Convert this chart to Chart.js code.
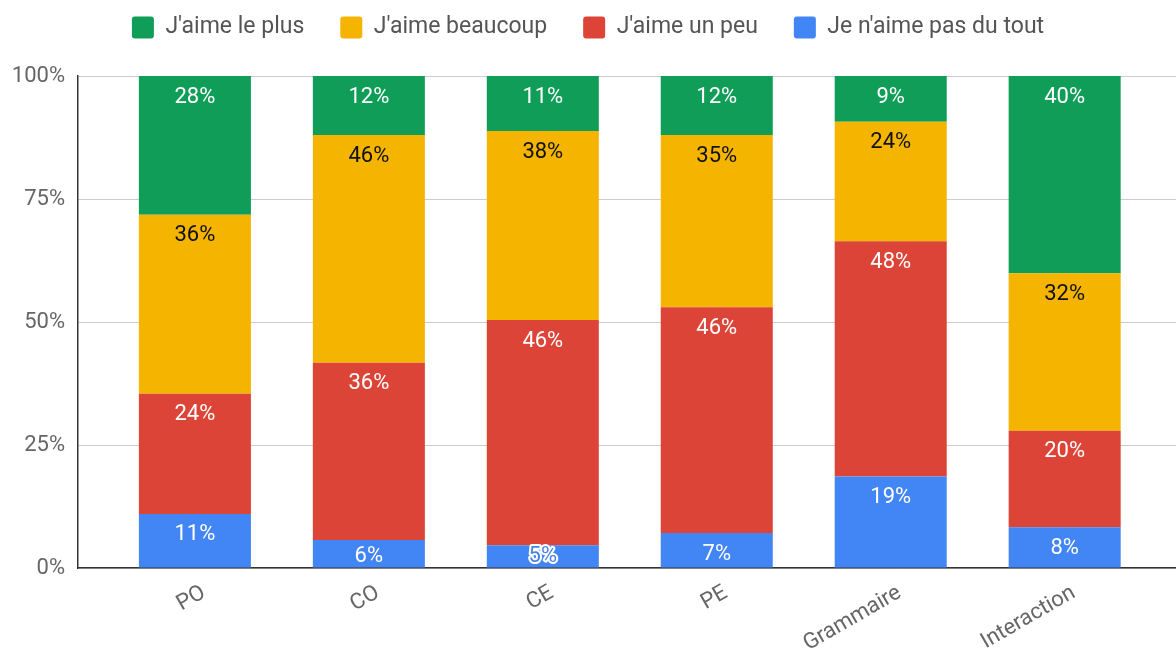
<!DOCTYPE html>
<html lang="fr">
<head>
<meta charset="utf-8">
<script src="https://cdn.jsdelivr.net/npm/chart.js@4"></script>
<style>
  html, body { margin: 0; padding: 0; background: #fff; overflow: hidden; }
  #wrap { width: 1176px; height: 651px; }
</style>
</head>
<body>
<div id="wrap"><canvas id="chart"></canvas></div>
<script>
// Catégories et séries (pourcentages)
const categories = ['PO', 'CO', 'CE', 'PE', 'Grammaire', 'Interaction'];
const plus      = [28.2, 12.0, 11.2, 12.0,  9.3, 40.1];
const beaucoup  = [36.4, 46.3, 38.4, 35.0, 24.3, 32.0];
const unPeu     = [24.4, 36.0, 45.8, 45.9, 47.8, 19.6];
const pasDuTout = [11.0,  5.7,  4.6,  7.1, 18.6,  8.3];
const yTicks    = [0, 25, 50, 75, 100];

const FONT = 'Roboto, "Noto Sans", sans-serif';

function toPoints(values) {
  return values.map((v, i) => ({ x: i, y: v }));
}

// Étiquettes de valeur dans les barres
const barLabels = {
  id: 'barLabels',
  afterDatasetsDraw(chart) {
    const ctx = chart.ctx;
    ctx.save();
    ctx.font = '22px ' + FONT;
    ctx.textAlign = 'center';
    ctx.textBaseline = 'middle';
    chart.data.datasets.forEach((ds, di) => {
      const meta = chart.getDatasetMeta(di);
      meta.data.forEach((bar, i) => {
        const v = ds.data[i].y;
        const top = Math.min(bar.y, bar.base);
        const bottom = Math.max(bar.y, bar.base);
        const y = Math.min(top + 21, bottom - 11);
        const txt = Math.round(v) + '%';
        if (bottom - top < 24) {
          ctx.lineWidth = 4;
          ctx.strokeStyle = '#ffffff';
          ctx.lineJoin = 'round';
          ctx.strokeText(txt, bar.x, y);
          ctx.fillStyle = '#4b82e0';
          ctx.fillText(txt, bar.x, y);
        } else {
          ctx.fillStyle = ds.labelColor;
          ctx.fillText(txt, bar.x, y);
        }
      });
    });
    ctx.restore();
  }
};

// espace supplémentaire sous la légende
const legendGap = {
  id: 'legendGap',
  beforeInit(chart) {
    const fit = chart.legend.fit;
    chart.legend.fit = function () {
      fit.call(this);
      this.height += 27;
    };
  }
};

new Chart(document.getElementById('chart'), {
  type: 'bar',
  data: {
    // ordre d'empilement : bas -> haut
    datasets: [
      { label: "Je n'aime pas du tout", data: toPoints(pasDuTout), backgroundColor: '#4285f4', labelColor: '#ffffff' },
      { label: "J'aime un peu",        data: toPoints(unPeu),     backgroundColor: '#db4437', labelColor: '#ffffff' },
      { label: "J'aime beaucoup",      data: toPoints(beaucoup),  backgroundColor: '#f4b400', labelColor: '#111111' },
      { label: "J'aime le plus",       data: toPoints(plus),      backgroundColor: '#0f9d58', labelColor: '#ffffff' },
    ].map(d => ({ ...d, categoryPercentage: 1, barPercentage: 0.644, borderWidth: 0 })),
  },
  options: {
    responsive: true, maintainAspectRatio: false, animation: false,
    layout: { padding: { top: -20, right: 0, bottom: 0, left: 0 } },
    plugins: {
      legend: {
        position: 'top', reverse: true,
        labels: {
          color: '#555555', font: { family: FONT, size: 23 },
          boxWidth: 22, boxHeight: 22, useBorderRadius: true, borderRadius: 3, padding: 36,
        },
      },
      tooltip: { enabled: false },
    },
    scales: {
      x: {
        type: 'linear', stacked: true, offset: false,
        min: -0.672, max: 5.64,
        afterFit: s => { s.height = 83; },
        grid: { display: false, drawTicks: false },
        border: { display: true, color: '#333333', width: 1.5 },
        ticks: {
          stepSize: 1, includeBounds: false, autoSkip: false,
          minRotation: 30, maxRotation: 30, padding: 12, labelOffset: 9,
          color: '#666666', font: { family: FONT, size: 22 },
          callback: v => Number.isInteger(v) ? (categories[v] || '') : '',
        },
      },
      y: {
        stacked: true, min: 0, max: 100,
        afterFit: s => { s.width = 78; },
        afterBuildTicks: s => { s.ticks = yTicks.map(v => ({ value: v })); },
        grid: { color: '#cccccc', lineWidth: 1, drawTicks: false },
        border: { display: true, color: '#333333', width: 1.5 },
        ticks: {
          padding: 13, color: '#666666', font: { family: FONT, size: 22 },
          callback: v => v + '%',
        },
      },
    },
  },
  plugins: [barLabels, legendGap],
});
</script>
</body>
</html>
